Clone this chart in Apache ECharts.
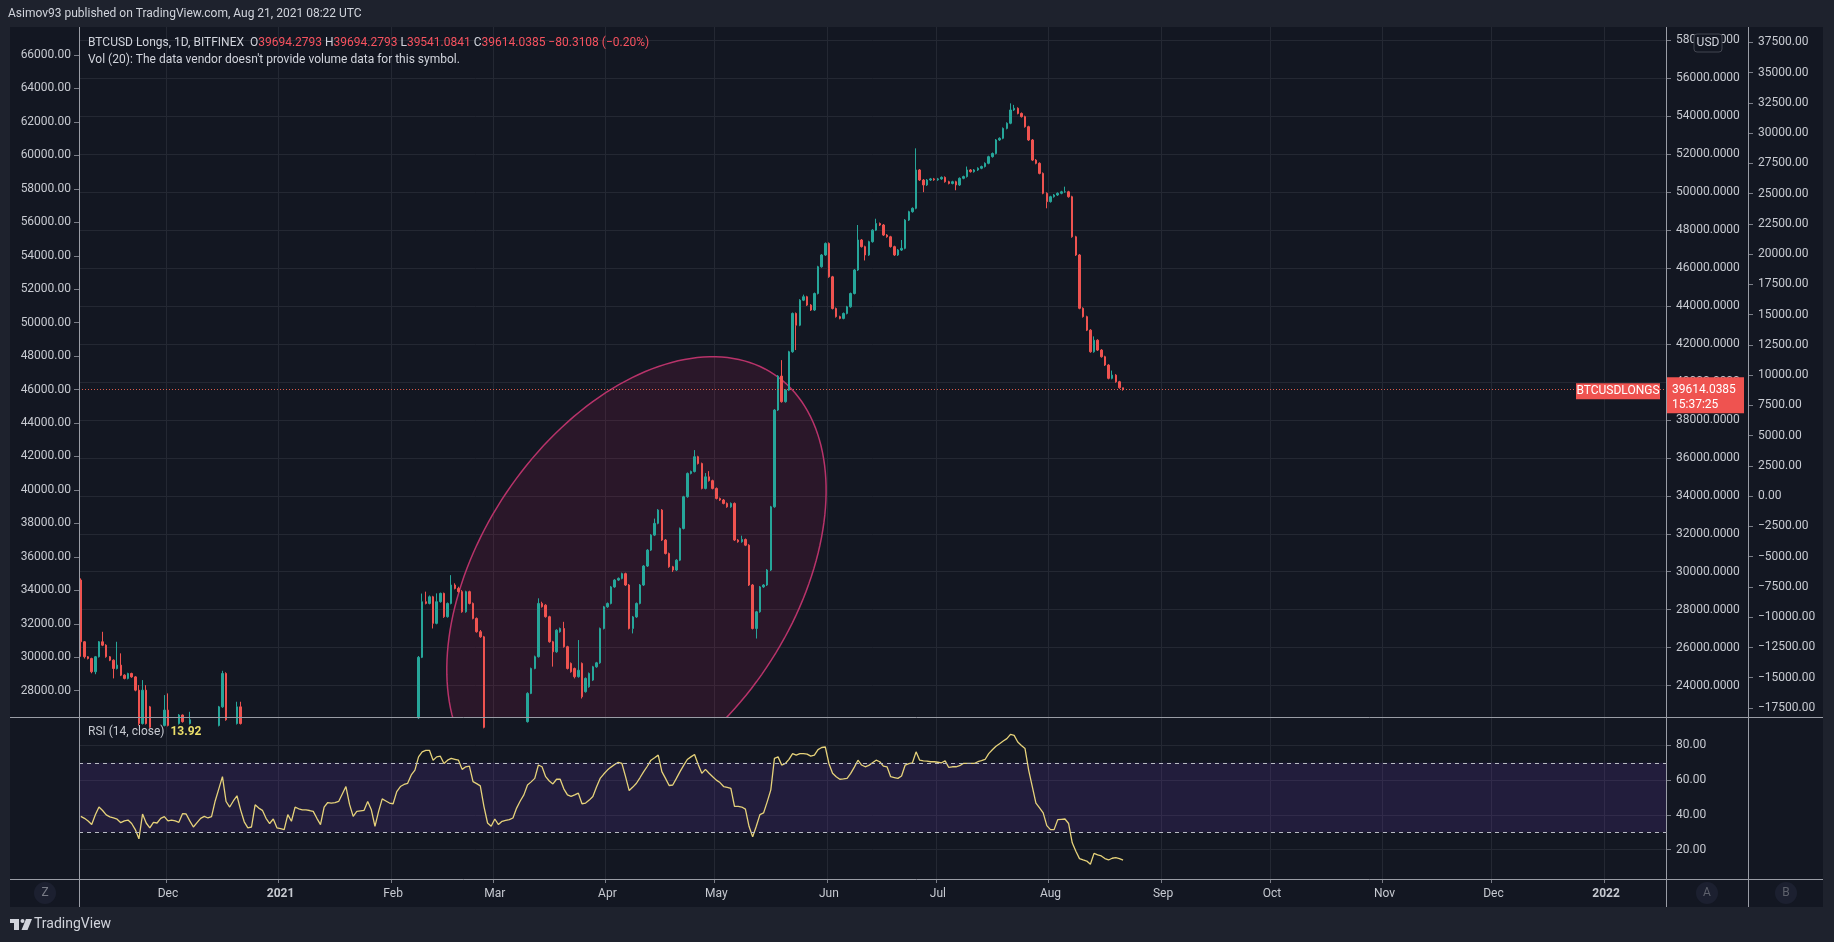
<!DOCTYPE html>
<html><head><meta charset="utf-8">
<script src="https://cdn.jsdelivr.net/npm/echarts@6/dist/echarts.min.js"></script>
<style>html,body{margin:0;padding:0;background:#1e222d;overflow:hidden}#c{width:1834px;height:942px}</style>
</head><body><div id="c"></div>
<script>
// ---------- data ----------
const startDate = [2020, 10, 7];   // 2020-11-07 (month is 0-based)
const dayCount = 437;              // through 2022-01-17
const monthNames = ['Jan','Feb','Mar','Apr','May','Jun','Jul','Aug','Sep','Oct','Nov','Dec'];

// [open, close, low, high] per day starting 2020-11-07
const candles = [
[29560,26310,25520,29650],[26310,25520,25430,26350],[25520,25430,25380,25560],[25430,24730,24650,25470],
[24730,25520,24600,25560],[25520,26310,25480,26350],[26310,26130,26080,26836],[26130,25520,25470,26180],
[25520,25340,25290,25560],[25340,24900,24380,25380],[24900,25080,24850,26310],[25080,24550,24500,25700],
[24550,24380,24330,24600],[24380,24640,24330,24680],[24640,24460,24410,24680],[24460,23760,23700,24500],
[23760,22000,21900,24030],[22000,23760,21950,24290],[23760,22000,21950,24025],[22880,21800,21750,22930],
[21800,21700,21650,21850],[21700,21600,21550,21750],[21600,21900,21550,21950],[21900,22710,21850,23500],
[22710,21900,21850,23590],[21900,21850,21800,21950],[21850,22000,21800,22050],[22000,22450,21950,22500],
[22450,22100,22050,22480],[22100,22000,21950,22150],[22000,22200,21950,22620],[22200,22000,21950,22250],
[22000,21900,21850,22050],[21900,21800,21700,21950],[21800,21600,21550,21900],[21600,21500,21400,21700],
[21500,21700,21450,21750],[21700,21900,21650,21950],[21900,22880,21850,22930],[22880,24640,22830,24780],
[24640,22200,22150,24700],[22200,21800,21750,22250],[21800,22000,21750,22050],[22000,22880,21950,23150],
[22880,22000,21950,23150],[22000,21500,21450,22050],[21500,21200,21150,21550],[21200,21250,21150,21300],
[21250,21950,21200,22000],[21950,21800,21750,22000],[21800,21700,21650,21850],[21700,21300,21250,21750],
[21300,21000,20950,21350],[21000,21150,20950,21200],[21150,20650,20600,21200],[20650,20500,20450,20700],
[20500,20300,20250,20550],[20300,20900,20250,20950],[20900,20600,20550,20950],[20600,21200,20550,21250],
[21200,21150,21100,21250],[21150,21100,21050,21200],[21100,21100,21050,21150],[21100,21050,21000,21150],
[21050,21000,20950,21100],[21000,20700,20650,21050],[20700,20400,20350,20750],[20400,21000,20350,21050],
[21000,21250,20950,21300],[21250,21230,21180,21300],[21230,21250,21180,21300],[21250,21300,21200,21350],
[21300,21650,21250,21700],[21650,21950,21600,22000],[21950,21350,21300,22000],[21350,20900,20850,21400],
[20900,21100,20850,21150],[21100,21120,21050,21170],[21120,21150,21070,21200],[21150,21500,21100,21550],
[21500,21200,21150,21550],[21200,20500,20450,21250],[20500,21000,20450,21050],[21000,21500,20950,21550],
[21500,21400,21350,21550],[21400,21300,21250,21450],[21300,21280,21230,21350],[21280,21700,21230,21750],
[21700,21900,21650,21950],[21900,22000,21850,22050],[22000,22050,21950,22100],[22050,22200,22000,22250],
[22200,22300,22150,22330],[22300,25490,22250,25560],[25490,28420,25450,28850],[28420,28330,28280,28950],
[28330,28680,28280,28750],[28680,27280,27010,28730],[27280,28420,27230,28860],[28420,28860,28370,28900],
[28860,27630,27570,28900],[27630,28330,27580,28380],[28330,29300,28280,29820],[29300,29120,29070,29390],
[29120,28950,28900,29210],[28950,27890,27840,29030],[27890,28950,27840,29000],[28950,28330,28280,29000],
[28330,27540,27490,28380],[27540,26840,26790,27590],[26840,26570,26520,26930],[26570,21800,21750,26620],
[21800,20800,20750,21850],[20800,20600,20550,20850],[20600,20900,20550,20950],[20900,20600,20550,20950],
[20600,20750,20550,20800],[20750,20800,20700,20850],[20800,20850,20750,20900],[20850,20950,20800,21000],
[20950,21400,20900,21450],[21400,21700,21350,21750],[21700,22100,21650,22150],[22100,23590,22050,23650],
[23590,24900,23550,24950],[24900,25520,24860,25580],[25520,28330,25480,28600],[28330,28160,28110,28420],
[28240,27630,27580,28290],[27630,26310,26260,27680],[26310,25780,25000,26360],[25780,26920,25730,26970],
[26840,27010,26790,27060],[27010,26050,26000,27360],[26050,24900,24850,26100],[25170,24730,24680,25220],
[24900,24470,24380,24950],[24470,24810,24420,26400],[25170,23410,23320,25220],[23680,24380,23630,24430],
[23940,24640,23890,24690],[24290,24990,24240,25040],[24990,25200,24940,25250],[25200,27010,25150,27060],
[27010,28150,26960,28200],[28150,28330,28100,28380],[28330,29200,28280,29250],[29200,29560,29150,29610],
[29560,29650,29510,29700],[29650,29900,29600,29950],[29900,29300,29250,29950],[29300,27010,26960,29350],
[27010,27620,26750,27670],[27620,28330,27570,28380],[28330,29300,28280,29350],[29300,30300,29250,30350],
[30300,31140,30250,31190],[31140,31930,31090,31980],[31930,32550,31880,32800],[32550,33250,32500,33300],
[33250,31670,31620,33300],[31670,30960,30910,31720],[30960,30260,30210,31010],[30260,30090,29990,30310],
[30090,30610,30040,30660],[30610,32280,30560,32330],[32280,33950,32230,34000],[33950,35180,33900,35230],
[35180,35280,35130,35330],[35280,36060,35230,36410],[36060,35700,35650,36110],[35700,34390,34340,35750],
[34390,35000,34340,35200],[35000,34800,34750,35300],[34800,34390,34340,34850],[34390,33860,33810,34440],
[33860,33780,33730,33910],[33780,33600,33550,33830],[33600,33420,33370,33650],[33420,33600,33370,33650],
[33600,31670,31620,33650],[31670,31580,31530,31720],[31580,31700,31530,31900],[31700,31400,31350,31750],
[31400,29300,29250,31450],[29300,27010,26960,29350],[27010,27890,26480,27940],[27890,29200,27840,29250],
[29200,29300,29150,29350],[29300,30090,29250,30140],[30090,33420,30040,33470],[33420,38520,33370,38570],
[38520,40310,38470,40360],[40310,38960,38910,41150],[38960,39570,38910,39620],[39570,41590,39520,41640],
[41590,43610,41540,43660],[43610,42990,41680,43660],[42990,44310,42940,44360],[44310,44490,44260,44600],
[44490,44050,44000,44540],[44050,43790,43740,44100],[43790,44660,43740,44710],[44660,46070,44610,46120],
[46070,46690,46020,46740],[46690,47300,46640,47350],[47300,45540,45490,47350],[45540,43870,43820,45590],
[43870,43440,43390,43920],[43440,43350,43300,43490],[43350,43610,43300,43660],[43610,43960,43560,44010],
[43960,44660,43910,44710],[44660,45900,44610,45950],[45900,47480,45850,48270],[47480,47130,47080,47530],
[47130,46690,46400,47180],[46690,47390,46640,47440],[47390,48000,47340,48050],[48000,48350,47950,48600],
[48350,48270,48220,48400],[48270,47740,47690,48320],[47740,47650,47600,47790],[47650,47130,47080,47700],
[47130,46690,46640,47180],[46690,46950,46640,47000],[46950,47040,46900,47480],[47040,48530,46990,48580],
[48530,48970,48480,49020],[48970,49150,48920,49200],[49150,51170,49100,52310],[51170,50640,50590,51220],
[50640,50380,50000,50690],[50380,50640,50330,50690],[50640,50700,50590,50750],[50700,50650,50600,50750],
[50650,50700,50600,50750],[50700,50780,50650,50830],[50780,50550,50500,50830],[50550,50460,50410,50600],
[50460,50550,50410,50600],[50550,50380,50100,50600],[50380,50730,50330,50780],[50730,50820,50680,50870],
[50820,51170,50770,51350],[51170,51080,51030,51220],[51080,51170,51030,51220],[51170,51260,51120,51310],
[51260,51350,51210,51400],[51350,51520,51300,51570],[51520,51870,51470,51920],[51870,52040,51820,52090],
[52040,52750,51990,52800],[52750,52840,52700,52890],[52840,53360,52790,53410],[53360,53630,53310,53680],
[53630,54330,53580,54680],[54330,54420,54280,54600],[54420,54150,54100,54470],[54150,53980,53930,54200],
[53980,53450,53400,54030],[53450,52750,52700,53500],[52750,51690,51640,52800],[51690,51520,51470,51740],
[51520,50990,50940,51570],[50990,49940,49890,51040],[49940,49500,49150,49990],[49500,49760,49450,49810],
[49760,49850,49710,49900],[49850,49940,49800,49990],[49940,50020,49890,50070],[50020,50020,49970,50290],
[50020,49760,49710,50070],[49760,47650,47600,49810],[47650,46690,46640,47700],[46690,43880,43830,46740],
[43880,43440,43390,43930],[43440,42730,42680,43490],[42730,41590,41540,42780],[41590,42200,41540,42400],
[42200,41680,41630,42250],[41680,41330,41280,41730],[41330,40890,40840,41380],[40890,40190,40140,40940],
[40190,40360,40140,40600],[40360,40010,39960,40410],[40010,39694.3493,39640,40060],
[39694.2793,39614.0385,39541.0841,39694.2793]
];

// RSI(14) per day, same dates
const rsi = [
39.1,38.0,36.5,34.4,40.0,44.5,42.5,40.0,38.8,38.2,37.5,35.5,36.5,37.0,35.0,31.5,26.2,40.5,35.3,32.5,
35.7,35.3,38.0,39.0,36.5,37.0,36.5,35.7,40.7,40.5,36.5,33.0,35.5,38.0,39.1,38.2,39.0,48.0,55.0,62.0,
47.7,44.5,48.0,51.0,42.9,36.0,32.5,33.0,45.8,43.9,42.6,38.0,35.0,37.6,32.5,32.0,31.5,40.1,36.3,44.5,
43.5,42.9,42.9,42.5,42.0,38.0,34.4,44.5,47.1,46.8,47.0,47.7,52.0,56.3,46.0,39.1,42.0,42.3,42.6,47.7,
42.9,33.4,42.0,49.2,48.0,46.8,46.4,53.4,56.3,57.5,58.2,63.0,65.8,73.4,76.3,77.2,77.2,71.5,73.4,73.8,
69.6,71.5,72.5,72.0,71.5,66.2,67.7,68.1,59.1,58.0,56.7,44.9,35.3,33.4,37.6,34.4,36.3,36.8,37.2,38.2,
43.9,48.0,51.5,57.2,59.0,61.0,68.7,67.7,62.0,59.5,57.8,60.5,60.5,55.0,51.5,50.6,51.5,52.5,46.4,46.8,
48.5,50.6,56.0,61.0,63.5,65.8,67.5,69.0,70.2,69.6,62.0,54.0,56.0,58.2,61.5,64.9,68.0,71.5,72.9,74.4,
64.9,61.0,56.9,57.2,61.0,64.9,68.5,71.9,73.4,74.8,69.0,63.9,66.2,64.0,62.0,60.0,58.6,56.3,55.8,55.3,
44.9,44.9,44.5,43.3,33.4,27.3,33.4,40.1,41.1,47.5,54.4,72.5,73.4,68.7,69.6,72.0,75.3,74.4,75.3,75.3,
75.0,73.8,74.4,77.6,78.8,79.1,69.6,64.0,62.0,60.5,60.7,61.0,63.9,67.5,71.5,68.7,67.7,68.5,70.0,71.5,
70.6,68.1,67.7,62.0,61.5,61.0,62.4,68.7,69.5,70.0,76.3,71.5,71.1,71.0,70.6,70.6,70.3,70.0,71.1,67.3,
67.7,67.7,68.3,69.6,69.6,69.6,69.6,70.6,71.2,71.9,75.3,77.5,79.5,81.0,82.5,83.9,86.4,85.8,82.0,80.0,
78.2,65.8,56.3,46.8,44.0,41.1,33.8,31.5,31.5,37.2,37.4,37.6,35.0,23.9,19.0,14.8,14.0,13.4,11.5,17.8,
17.0,16.3,14.8,14.0,15.0,15.3,14.8,13.92
];

const leftTicks = [28000,30000,32000,34000,36000,38000,40000,42000,44000,46000,48000,50000,52000,54000,56000,58000,60000,62000,64000,66000];
const priceTicks = [24000,26000,28000,30000,32000,34000,36000,38000,40000,42000,44000,46000,48000,50000,52000,54000,56000,58000];
const rightTicks2 = [-17500,-15000,-12500,-10000,-7500,-5000,-2500,0,2500,5000,7500,10000,12500,15000,17500,20000,22500,25000,27500,30000,32500,35000,37500];
const rsiTicks = [20,40,60,80];
const rsiBands = [30,70];

// ellipse drawing (date, price on the main price scale)
const ellipseCenter = ['2021-04-09', 29560];
const ellipseMajorEnd = ['2021-05-17', 40390];
const ellipseMinorEnd = ['2021-05-15', 25007];

const legendName = 'BTCUSD Longs, 1D, BITFINEX';
const lastTime = '15:37:25';

// ---------- build ----------
const categories = [];
for (let i = 0; i < dayCount; i++) {
  const d = new Date(Date.UTC(startDate[0], startDate[1], startDate[2] + i));
  categories.push(d.toISOString().slice(0, 10));
}
const last = candles[candles.length - 1];
const prev = candles[candles.length - 2];
const isMonthStart = (idx) => !!categories[idx] && categories[idx].slice(8) === '01';
const fmtNeg = (s) => s.replace('-', '\u2212');

const FONT = 'Roboto, "Noto Sans", sans-serif';
const labelColor = '#c7cad1';
const gridColor = '#242833';
const tickColor = '#7a7d87';
const frameColor = '#9a9da6';
const up = '#26a69a', down = '#ef5350';

const chart = echarts.init(document.getElementById('c'), null, {width: 1834, height: 942});

const option = {
  animation: false,
  backgroundColor: '#131722',
  textStyle: {fontFamily: FONT},
  grid: [
    {left: 79, top: 27, width: 1587, height: 690},
    {left: 79, top: 718, width: 1587, height: 161}
  ],
  xAxis: [
    {gridIndex: 0, type: 'category', data: categories, boundaryGap: true,
     axisLine: {show: false}, axisTick: {show: false}, axisLabel: {show: false},
     splitLine: {show: true, interval: (i) => isMonthStart(i), lineStyle: {color: gridColor, width: 1}}},
    {gridIndex: 1, type: 'category', data: categories, boundaryGap: true, position: 'bottom',
     axisLine: {show: false},
     axisTick: {show: true, interval: (i) => isMonthStart(i), length: 4, lineStyle: {color: tickColor}},
     axisLabel: {interval: (i) => isMonthStart(i), margin: 9, color: labelColor, fontSize: 12, fontFamily: FONT,
       formatter: (v) => { const m = +v.slice(5, 7); return m === 1 ? '{y|' + v.slice(0, 4) + '}' : monthNames[m - 1]; },
       rich: {y: {fontWeight: 'bold', color: labelColor, fontSize: 12, fontFamily: FONT}}},
     splitLine: {show: true, interval: (i) => isMonthStart(i), lineStyle: {color: gridColor, width: 1}}}
  ],
  yAxis: [
    {gridIndex: 0, type: 'value', position: 'left', min: 26428, max: 67674,
     axisLine: {show: false},
     axisTick: {show: true, length: 5, customValues: leftTicks, lineStyle: {color: tickColor}},
     axisLabel: {customValues: leftTicks, formatter: (v) => fmtNeg(v.toFixed(2)), color: labelColor, fontSize: 12, fontFamily: FONT, margin: 8},
     splitLine: {show: false}},
    {gridIndex: 0, type: 'value', position: 'right', min: 22346, max: 58703,
     axisLine: {show: false},
     axisTick: {show: true, length: 5, customValues: priceTicks, lineStyle: {color: tickColor}},
     axisLabel: {customValues: priceTicks, formatter: (v) => fmtNeg(v.toFixed(4)), color: labelColor, fontSize: 12, fontFamily: FONT, margin: 10},
     splitLine: {show: true, lineStyle: {color: gridColor, width: 1}}},
    {gridIndex: 0, type: 'value', position: 'right', offset: 82, min: -18260, max: 38764,
     axisLine: {show: false},
     axisTick: {show: true, length: 5, customValues: rightTicks2, lineStyle: {color: tickColor}},
     axisLabel: {customValues: rightTicks2, formatter: (v) => fmtNeg(v.toFixed(2)), color: labelColor, fontSize: 12, fontFamily: FONT, margin: 10},
     splitLine: {show: false}},
    {gridIndex: 1, type: 'value', position: 'right', min: 3.04, max: 95.8,
     axisLine: {show: false},
     axisTick: {show: true, length: 5, customValues: rsiTicks, lineStyle: {color: tickColor}},
     axisLabel: {customValues: rsiTicks, formatter: (v) => v.toFixed(2), color: labelColor, fontSize: 12, fontFamily: FONT, margin: 10},
     splitLine: {show: true, lineStyle: {color: gridColor, width: 1}}}
  ],
  series: [
    {
      type: 'custom', name: 'ellipse', xAxisIndex: 0, yAxisIndex: 1, clip: true, z: 1, silent: true,
      data: [[0]],
      renderItem: (params, api) => {
        const c = api.coord([categories.indexOf(ellipseCenter[0]), ellipseCenter[1]]);
        const m = api.coord([categories.indexOf(ellipseMajorEnd[0]), ellipseMajorEnd[1]]);
        const n = api.coord([categories.indexOf(ellipseMinorEnd[0]), ellipseMinorEnd[1]]);
        const rx = Math.hypot(m[0] - c[0], m[1] - c[1]);
        const ry = Math.hypot(n[0] - c[0], n[1] - c[1]);
        const ang = Math.atan2(m[1] - c[1], m[0] - c[0]);
        const pts = [];
        for (let k = 0; k < 180; k++) {
          const t = k / 180 * Math.PI * 2;
          const ex = rx * Math.cos(t), ey = ry * Math.sin(t);
          pts.push([c[0] + ex * Math.cos(ang) - ey * Math.sin(ang), c[1] + ex * Math.sin(ang) + ey * Math.cos(ang)]);
        }
        return {type: 'polygon', shape: {points: pts},
          style: {fill: 'rgba(233,30,99,0.11)', stroke: '#b8336a', lineWidth: 1.5}};
      }
    },
    {
      type: 'candlestick', name: 'BTCUSD Longs', xAxisIndex: 0, yAxisIndex: 1, data: candles,
      barWidth: 2, clip: true, z: 3,
      itemStyle: {color: up, color0: down, borderColor: up, borderColor0: down, borderWidth: 1},
      markLine: {silent: true, symbol: ['none', 'none'], animation: false,
        label: {show: false},
        lineStyle: {type: [1, 2], color: '#f0644f', width: 1, opacity: 0.9},
        data: [{yAxis: last[1]}]}
    },
    {
      type: 'line', name: 'RSI', xAxisIndex: 1, yAxisIndex: 3, data: rsi, showSymbol: false, symbol: 'none',
      lineStyle: {color: '#e6d27a', width: 1.3}, z: 3,
      markArea: {silent: true, itemStyle: {color: 'rgba(120,60,200,0.16)'},
        data: [[{yAxis: rsiBands[0]}, {yAxis: rsiBands[1]}]]},
      markLine: {silent: true, symbol: ['none', 'none'], label: {show: false},
        lineStyle: {type: [4, 4], color: '#b9bcc4', width: 1},
        data: [{yAxis: rsiBands[1]}, {yAxis: rsiBands[0]}]}
    }
  ]
};
chart.setOption(option);

// ---------- decorations ----------
const py = chart.convertToPixel({yAxisIndex: 1}, last[1]);
const frame = '#1e222d';
const T = (x, y, text, extra) => Object.assign({type: 'text', x, y, z: 120,
  style: Object.assign({text, fill: '#d1d4dc', font: '12px ' + FONT, verticalAlign: 'middle'}, extra || {})});
const Lh = (x1, x2, y) => ({type: 'line', z: 110, shape: {x1, y1: y, x2, y2: y}, style: {stroke: frameColor, lineWidth: 1}});
const Lv = (x, y1, y2) => ({type: 'line', z: 110, shape: {x1: x, y1, x2: x, y2}, style: {stroke: frameColor, lineWidth: 1}});

const lastChg = last[1] - prev[1];
const lastPct = lastChg / prev[1] * 100;

chart.setOption({
  graphic: [
    {type: 'rect', z: 100, shape: {x: 0, y: 0, width: 1834, height: 27}, style: {fill: frame}},
    {type: 'rect', z: 100, shape: {x: 0, y: 907, width: 1834, height: 35}, style: {fill: frame}},
    {type: 'rect', z: 100, shape: {x: 0, y: 0, width: 10, height: 942}, style: {fill: frame}},
    {type: 'rect', z: 100, shape: {x: 1823, y: 0, width: 11, height: 942}, style: {fill: frame}},
    Lh(10, 1823, 717.5), Lh(10, 1823, 879.5),
    Lv(79.5, 27, 907), Lv(1666.5, 27, 907), Lv(1748.5, 27, 907),
    T(8, 14, 'Asimov93 published on TradingView.com, Aug 21, 2021 08:22 UTC'),
    T(88, 43, '{a|' + legendName + '}  {a|O}{r|' + last[0].toFixed(4) + '} {a|H}{r|' + last[3].toFixed(4) + '} {a|L}{r|' + last[2].toFixed(4) + '} {a|C}{r|' + last[1].toFixed(4) + '} {r|' + fmtNeg(lastChg.toFixed(4)) + ' (' + fmtNeg(lastPct.toFixed(2)) + '%)}',
      {rich: {a: {fill: '#d1d4dc', font: '12px ' + FONT}, r: {fill: '#f7525f', font: '12px ' + FONT}}}),
    T(88, 60, 'Vol (20): The data vendor doesn\'t provide volume data for this symbol.'),
    T(88, 732, '{a|RSI (14, close)}  {y|' + rsi[rsi.length - 1].toFixed(2) + '}',
      {rich: {a: {fill: '#c7cad1', font: '12px ' + FONT}, y: {fill: '#ecdf6a', font: 'bold 12px ' + FONT}}}),
    // USD badge
    {type: 'rect', z: 120, shape: {x: 1694, y: 34, width: 28, height: 18, r: 3}, style: {fill: '#131722', stroke: '#434651', lineWidth: 1}},
    T(1708, 43, 'USD', {align: 'center', fill: '#d1d4dc'}),
    // last price badges
    {type: 'rect', z: 120, shape: {x: 1576, y: py - 6, width: 84, height: 16}, style: {fill: down}},
    T(1618, py + 2, 'BTCUSDLONGS', {align: 'center', fill: '#ffffff', font: '12px ' + FONT}),
    {type: 'rect', z: 120, shape: {x: 1667, y: py - 12, width: 77, height: 36}, style: {fill: down}},
    T(1672, py + 1, last[1].toFixed(4), {fill: '#ffffff'}),
    T(1672, py + 16, lastTime, {fill: '#ffffff'}),
    // buttons
    {type: 'circle', z: 120, shape: {cx: 45, cy: 893, r: 11}, style: {fill: '#1c2030'}},
    T(45, 893, 'Z', {align: 'center', fill: '#787b86'}),
    {type: 'circle', z: 120, shape: {cx: 1707, cy: 893, r: 11}, style: {fill: '#1c2030'}},
    T(1707, 893, 'A', {align: 'center', fill: '#5d606b'}),
    {type: 'circle', z: 120, shape: {cx: 1786, cy: 893, r: 11}, style: {fill: '#1c2030'}},
    T(1786, 893, 'B', {align: 'center', fill: '#5d606b'}),
    // TradingView logo
    {type: 'rect', z: 120, shape: {x: 10, y: 919, width: 9, height: 4}, style: {fill: '#d1d4dc'}},
    {type: 'rect', z: 120, shape: {x: 14, y: 919, width: 5, height: 11}, style: {fill: '#d1d4dc'}},
    {type: 'circle', z: 120, shape: {cx: 22.5, cy: 921, r: 2}, style: {fill: '#d1d4dc'}},
    {type: 'polygon', z: 120, shape: {points: [[26, 919], [32, 919], [27.5, 930], [21.5, 930]]}, style: {fill: '#d1d4dc'}},
    T(34, 924.5, 'TradingView', {font: '14px ' + FONT, fill: '#d1d4dc'})
  ]
});
</script></body></html>
